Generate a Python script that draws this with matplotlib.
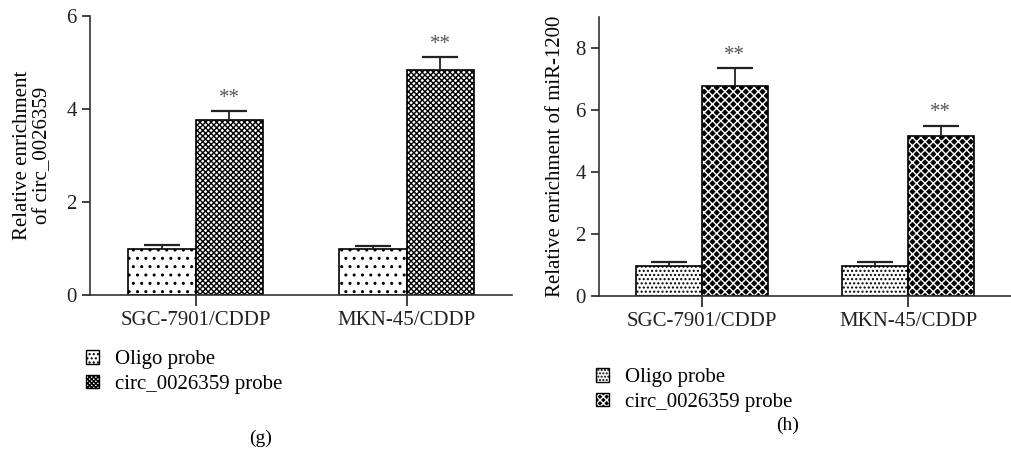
import numpy as np
import matplotlib
matplotlib.use('Agg')
import matplotlib.pyplot as plt
from matplotlib.patches import Patch
from matplotlib.legend_handler import HandlerTuple

plt.rcParams['font.family'] = ['Liberation Serif', 'DejaVu Serif']
plt.rcParams['hatch.linewidth'] = 1.0

# data
cells = ['SGC-7901/CDDP', 'MKN-45/CDDP']
series = ['Oligo probe', 'circ_0026359 probe']

g_oligo = [1.00, 1.00]
g_oligo_err = [0.07, 0.06]
g_circ = [3.77, 4.83]
g_circ_err = [0.18, 0.28]

h_oligo = [0.96, 0.96]
h_oligo_err = [0.12, 0.13]
h_circ = [6.76, 5.15]
h_circ_err = [0.57, 0.34]

fs = 15
W, H = 1011, 451
fig = plt.figure(figsize=(W / 100, H / 100), dpi=100)

ax_g = fig.add_axes([90 / W, (H - 295) / H, 422 / W, 279 / H])
ax_h = fig.add_axes([599 / W, (H - 295.7) / H, 412 / W, 279 / H])

# oligo style, circ style (face, hatch colour, hatch)
g_styles = [('white', 'black', '..'), ('white', 'black', 'x' * 6)]
h_styles = [('white', 'black', '....'), ('black', 'white', 'x' * 4)]

panels = [
    (ax_g, g_oligo, g_oligo_err, g_circ, g_circ_err, 6, [0, 2, 4, 6],
     'Relative enrichment\nof circ_0026359', -0.09, g_styles),
    (ax_h, h_oligo, h_oligo_err, h_circ, h_circ_err, 9, [0, 2, 4, 6, 8],
     'Relative enrichment of miR-1200', -0.083, h_styles),
]

x = np.arange(len(cells))
bw = 0.32
for ax, ol, ole, ci, cie, ytop, yt, ylab, lx, sts in panels:
    for xs, v, st in [(x - bw / 2, ol, sts[0]), (x + bw / 2, ci, sts[1])]:
        ax.bar(xs, v, bw, color=st[0], edgecolor=st[1], hatch=st[2],
               linewidth=0, zorder=2)
        ax.bar(xs, v, bw, fill=False, edgecolor='black', linewidth=1.2, zorder=2)
    for xs, v, e in [(x - bw / 2, ol, ole), (x + bw / 2, ci, cie)]:
        _, caps, _ = ax.errorbar(xs, v, yerr=[np.zeros(len(v)), e], fmt='none',
                                 ecolor='#222222', elinewidth=1.3, capsize=13,
                                 capthick=1.6, zorder=3)
        caps[0].set_visible(False)
    for xi, v, e in zip(x + bw / 2, ci, cie):
        ax.text(xi, v + e + ytop * 0.012, '**', ha='center', va='bottom',
                fontsize=fs, color='#555555')
    ax.set_xlim(-0.5, 1.5)
    ax.set_ylim(0, ytop)
    ax.set_yticks(yt)
    ax.set_xticks(x)
    ax.set_xticklabels(cells)
    ax.tick_params(labelsize=fs, length=6, width=1.2, colors='#222222')
    ax.tick_params(axis='x', length=8)
    ax.spines['top'].set_visible(False)
    ax.spines['right'].set_visible(False)
    for s in ['left', 'bottom']:
        ax.spines[s].set_linewidth(1.2)
        ax.spines[s].set_color('#333333')
    ax.set_ylabel(ylab, fontsize=fs, linespacing=1.05)
    ax.yaxis.set_label_coords(lx, 0.5)


def legend_handles(sts, dots):
    out = []
    for st, h in zip(sts, dots):
        fillp = Patch(facecolor=st[0], edgecolor=st[1], hatch=h, linewidth=0)
        edge = Patch(fill=False, edgecolor='black', linewidth=1.0)
        out.append((fillp, edge))
    return out


leg_kw = dict(loc='upper left', frameon=False, fontsize=fs, handlelength=0.62,
              handleheight=0.62, handletextpad=0.75, labelspacing=0.28,
              borderpad=0, borderaxespad=0,
              handler_map={tuple: HandlerTuple(ndivide=1, pad=0)})
fig.legend(legend_handles(g_styles, ['....', 'x' * 8]), series,
           bbox_to_anchor=(86 / W, (H - 350) / H), **leg_kw)
fig.legend(legend_handles(h_styles, ['.....', 'x' * 5]), series,
           bbox_to_anchor=(596 / W, (H - 368) / H), **leg_kw)

fig.text(261 / W, (H - 438) / H, '(g)', ha='center', va='center', fontsize=fs - 1)
fig.text(788 / W, (H - 425) / H, '(h)', ha='center', va='center', fontsize=fs - 1)

fig.savefig('out.png', dpi=100)
